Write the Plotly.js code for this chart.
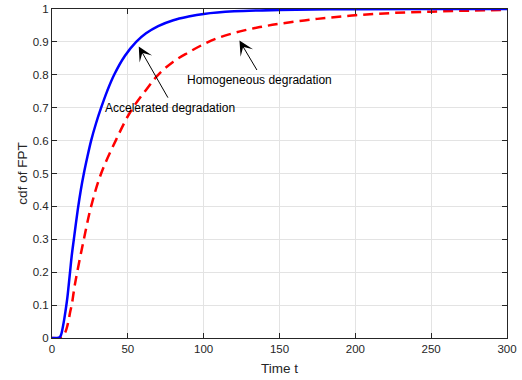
<!DOCTYPE html>
<html>
<head>
<meta charset="utf-8">
<script src="https://cdn.plot.ly/plotly-3.0.1.min.js"></script>
<style>html,body{margin:0;padding:0;background:#fff;}#chart{width:522px;height:380px;}</style>
</head>
<body>
<div id="chart"></div>
<script>
const accelT = [0, 3, 5, 6, 7, 8, 9, 10, 11, 12, 13, 14.4, 17, 19, 21, 23.3, 25.8, 29, 32.4, 36.5, 41, 48, 55.5, 62, 70, 80, 90, 100, 120, 150, 200, 250, 300];
const accelF = [0, 0, 0.002, 0.01, 0.03, 0.055, 0.085, 0.118, 0.16, 0.205, 0.25, 0.3, 0.39, 0.45, 0.5, 0.55, 0.6, 0.652, 0.7, 0.752, 0.8, 0.857, 0.9, 0.926, 0.948, 0.966, 0.977, 0.985, 0.993, 0.997, 0.9995, 1, 1];

const homoT = [0, 5, 7, 8, 9, 10, 11, 12, 13, 14, 15, 16.6, 21, 25.8, 32.4, 42, 52, 62, 70, 80, 90, 100, 110, 124, 137, 150, 175, 200, 225, 250, 275, 300];
const homoF = [0, 0, 0.003, 0.01, 0.02, 0.035, 0.055, 0.08, 0.1, 0.13, 0.16, 0.2, 0.3, 0.4, 0.5, 0.6, 0.69, 0.754, 0.8, 0.84, 0.868, 0.893, 0.913, 0.932, 0.945, 0.955, 0.97, 0.981, 0.988, 0.992, 0.995, 0.997];

const xTicks = [0, 50, 100, 150, 200, 250, 300];
const yTicks = [0, 0.1, 0.2, 0.3, 0.4, 0.5, 0.6, 0.7, 0.8, 0.9, 1];

const labelAccel = "Accelerated degradation";
const labelHomo = "Homogeneous degradation";
const xTitle = "Time t";
const yTitle = "cdf of FPT";

const font = "'Liberation Sans', Arial, Helvetica, sans-serif";
const axisColor = "#262626";

const traces = [
  {x: homoT, y: homoF, mode: "lines", line: {color: "#ff0000", width: 2.5, dash: "10px,6px", shape: "spline", smoothing: 1}, hoverinfo: "skip"},
  {x: accelT, y: accelF, mode: "lines", line: {color: "#0000ff", width: 2.5, shape: "spline", smoothing: 1}, hoverinfo: "skip"}
];

function axis(ticks, rng, title, standoff) {
  return {
    range: rng, tickvals: ticks, ticktext: ticks.map(String),
    showgrid: true, gridcolor: "#e3e3e3", gridwidth: 1,
    zeroline: false, showline: true, linecolor: axisColor, linewidth: 1,
    mirror: "ticks", ticks: "inside", ticklen: 5, tickcolor: axisColor, tickwidth: 1,
    tickfont: {family: font, size: 11.5, color: axisColor},
    title: {text: title, standoff: standoff, font: {family: font, size: 13.5, color: axisColor}},
    fixedrange: true
  };
}

const layout = {
  width: 522, height: 380,
  margin: {l: 52, r: 15, t: 9, b: 42},
  paper_bgcolor: "#fff", plot_bgcolor: "#fff",
  showlegend: false,
  xaxis: axis(xTicks, [0, 300], xTitle, 9),
  yaxis: axis(yTicks, [0, 1], yTitle, 1),
  annotations: [
    {x: 57.2, y: 0.886, ax: 77, ay: 0.726, xref: "x", yref: "y", axref: "x", ayref: "y", text: "", showarrow: true, arrowhead: 3, arrowsize: 2.4, arrowwidth: 1, arrowcolor: "#000"},
    {x: 123.6, y: 0.904, ax: 135.7, ay: 0.81, xref: "x", yref: "y", axref: "x", ayref: "y", text: "", showarrow: true, arrowhead: 3, arrowsize: 2.4, arrowwidth: 1, arrowcolor: "#000"},
    {x: 78.1, y: 0.698, xref: "x", yref: "y", text: labelAccel, showarrow: false, font: {family: font, size: 12, color: "#000"}},
    {x: 136.8, y: 0.784, xref: "x", yref: "y", text: labelHomo, showarrow: false, font: {family: font, size: 12, color: "#000"}}
  ]
};

Plotly.newPlot("chart", traces, layout, {staticPlot: true, displayModeBar: false});
</script>
</body>
</html>
